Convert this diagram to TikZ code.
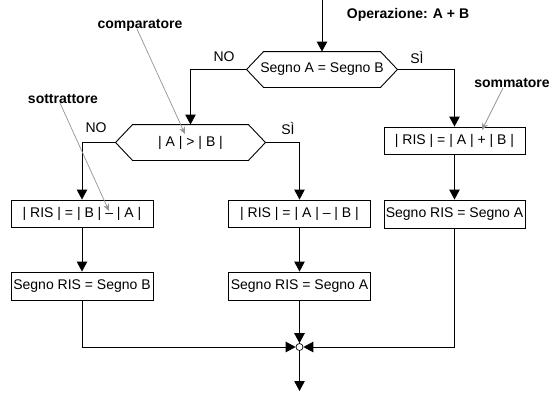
\documentclass[tikz,border=0pt]{standalone}
\usepackage{fontspec}
\setmainfont{Liberation Sans}
\usetikzlibrary{arrows.meta,calc}
\newcommand\hexpath[1]{\draw ([xshift=17pt]#1.north west) -- ([xshift=-17pt]#1.north east) -- (#1.east) -- ([xshift=-17pt]#1.south east) -- ([xshift=17pt]#1.south west) -- (#1.west) -- cycle;}
\begin{document}
\begin{tikzpicture}[x=1pt,y=-1pt,
  font=\fontsize{14}{16}\selectfont,
  line width=0.9pt,
  arr/.style={-{Triangle[width=10.5pt,length=10pt]}},
  note/.style={draw=gray!85, line width=0.7pt, -{Stealth[length=7pt,width=6pt]}},
  box/.style={draw, minimum height=27pt, inner sep=0pt},
  hexa/.style={minimum height=35pt, minimum width=150pt, inner sep=0pt},
  lbl/.style={font=\fontsize{14}{16}\selectfont\bfseries, inner sep=0pt},
  txt/.style={inner sep=0pt},
]
\useasboundingbox (0,0) rectangle (552,394);

% decisions
\node[hexa] (h1) at (322,69.5) {Segno A = Segno B};
\hexpath{h1}
\node[hexa, minimum width=149pt] (h2) at (190.5,142.5) {| A | > | B |};
\hexpath{h2}

% boxes
\node[box, minimum width=141pt] (sum)  at (454.5,140.5) {| RIS | = | A | + | B |};
\node[box, minimum width=141pt, minimum height=28pt] (sgnR) at (454.5,214) {Segno RIS = Segno A};
\node[box, minimum width=142pt] (sub1) at (82,213.5) {| RIS | = | B | – | A |};
\node[box, minimum width=142pt, minimum height=28pt] (sgnL) at (82,286) {Segno RIS = Segno B};
\node[box, minimum width=142pt] (sub2) at (299.5,213.5) {| RIS | = | A | – | B |};
\node[box, minimum width=142pt, minimum height=28pt] (sgnM) at (299.5,286) {Segno RIS = Segno A};

% junction
\node[circle, draw, fill=white, inner sep=0pt, minimum size=7pt, line width=0.7pt] (j) at (299.5,347) {};
\coordinate (in) at (322,0);
\coordinate (out) at (299.5,391);

% connectors
\draw[arr] (in) -- (h1.north);
\draw[arr] (h1.west) -| (h2.north);
\draw[arr] (h1.east) -| (sum.north);
\draw[arr] (h2.west) -| (sub1.north);
\draw[arr] (h2.east) -| (sub2.north);
\draw[arr] (sum) -- (sgnR);
\draw[arr] (sub1) -- (sgnL);
\draw[arr] (sub2) -- (sgnM);
\draw[arr] (sgnL.south) |- (j.west);
\draw[arr] (sgnM) -- (j);
\draw[arr] (sgnR.south) |- (j.east);
\draw[arr] (j) -- (out);

% branch labels
\node[txt] (no1) at (224,57) {NO};
\node[txt] (si1) at (417,57) {SÌ};
\node[txt] (no2) at (96,128) {NO};
\node[txt] (si2) at (288,128) {SÌ};

% annotations
\node[lbl] (op) at (408,15) {Operazione: A + B};
\node[lbl] (cmp) at (140,25) {comparatore};
\node[lbl] (sot) at (63,99) {sottrattore};
\node[lbl] (som) at (512,83) {sommatore};
\coordinate (cmpA) at (137,29);
\coordinate (cmpB) at (185,134);
\coordinate (sotA) at (60,103);
\coordinate (sotB) at (109,211);
\coordinate (somA) at (503,88);
\coordinate (somB) at (482,130);
\draw[note] (cmpA) -- (cmpB);
\draw[note] (sotA) -- (sotB);
\draw[note] (somA) -- (somB);
\end{tikzpicture}
\end{document}
